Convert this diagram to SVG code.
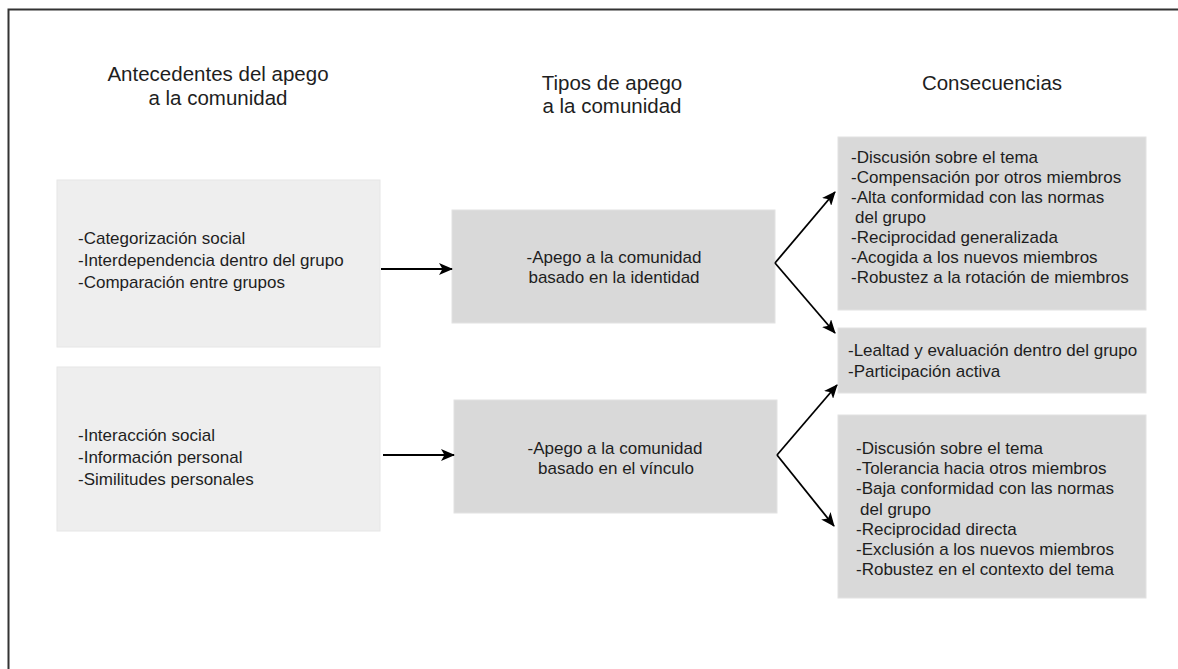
<svg xmlns="http://www.w3.org/2000/svg" width="1178" height="669" viewBox="0 0 1178 669">
  <style>
    .hdr { font-family: "Liberation Sans", Arial, sans-serif; font-size: 20.5px; fill: #1e1e1e; text-anchor: middle; }
    .txt { font-family: "Liberation Sans", Arial, sans-serif; font-size: 17px; fill: #1e1e1e; }
    .mid { text-anchor: middle; }
    .light { fill: #eeeeee; stroke: #e6e6e6; stroke-width: 1; }
    .dark { fill: #d9d9d9; stroke: #e2e2e2; stroke-width: 1; }
    .conn { fill: none; stroke: #000; stroke-width: 1.8; }
  </style>
  <defs>
    <marker id="arrow" viewBox="0 0 14 12" refX="13" refY="6" markerWidth="14" markerHeight="12" markerUnits="userSpaceOnUse" orient="auto">
      <path d="M0,0 L14,6 L0,12 L3.5,6 z" fill="#000"/>
    </marker>
  </defs>

  <rect width="1178" height="669" fill="#ffffff"/>
  <!-- frame: only top and left edges fall inside the canvas -->
  <path d="M8.5,669 L8.5,9.5 L1178,9.5" fill="none" stroke="#333333" stroke-width="2"/>

  <!-- column headings -->
  <g id="heading-antecedentes">
    <text class="hdr" x="218" y="81">Antecedentes del apego</text>
    <text class="hdr" x="218" y="105">a la comunidad</text>
  </g>
  <g id="heading-tipos">
    <text class="hdr" x="612" y="90">Tipos de apego</text>
    <text class="hdr" x="612" y="113">a la comunidad</text>
  </g>
  <g id="heading-consecuencias">
    <text class="hdr" x="992" y="90">Consecuencias</text>
  </g>

  <!-- antecedents -->
  <g id="node-antecedentes-identidad">
    <rect class="light" x="57" y="180" width="323" height="167"/>
    <text class="txt" x="78" y="244">-Categorización social</text>
    <text class="txt" x="78" y="266">-Interdependencia dentro del grupo</text>
    <text class="txt" x="78" y="288">-Comparación entre grupos</text>
  </g>
  <g id="node-antecedentes-vinculo">
    <rect class="light" x="57" y="367" width="323" height="164"/>
    <text class="txt" x="78" y="441">-Interacción social</text>
    <text class="txt" x="78" y="463">-Información personal</text>
    <text class="txt" x="78" y="485">-Similitudes personales</text>
  </g>

  <!-- attachment types -->
  <g id="node-apego-identidad">
    <rect class="dark" x="452" y="210" width="323" height="113"/>
    <text class="txt mid" x="614" y="263">-Apego a la comunidad</text>
    <text class="txt mid" x="614" y="283">basado en la identidad</text>
  </g>
  <g id="node-apego-vinculo">
    <rect class="dark" x="454" y="400" width="323" height="113"/>
    <text class="txt mid" x="615" y="454">-Apego a la comunidad</text>
    <text class="txt mid" x="616" y="474">basado en el vínculo</text>
  </g>

  <!-- consequences -->
  <g id="node-consecuencias-identidad">
    <rect class="dark" x="838" y="137" width="308" height="173"/>
    <text class="txt" x="851" y="163">-Discusión sobre el tema</text>
    <text class="txt" x="851" y="183">-Compensación por otros miembros</text>
    <text class="txt" x="851" y="203">-Alta conformidad con las normas</text>
    <text class="txt" x="855" y="223">del grupo</text>
    <text class="txt" x="851" y="243">-Reciprocidad generalizada</text>
    <text class="txt" x="851" y="263">-Acogida a los nuevos miembros</text>
    <text class="txt" x="851" y="283">-Robustez a la rotación de miembros</text>
  </g>
  <g id="node-consecuencias-comunes">
    <rect class="dark" x="838" y="328" width="308" height="65"/>
    <text class="txt" x="848" y="356">-Lealtad y evaluación dentro del grupo</text>
    <text class="txt" x="848" y="377">-Participación activa</text>
  </g>
  <g id="node-consecuencias-vinculo">
    <rect class="dark" x="838" y="415" width="308" height="183"/>
    <text class="txt" x="856" y="454">-Discusión sobre el tema</text>
    <text class="txt" x="856" y="474">-Tolerancia hacia otros miembros</text>
    <text class="txt" x="856" y="494">-Baja conformidad con las normas</text>
    <text class="txt" x="860" y="515">del grupo</text>
    <text class="txt" x="856" y="535">-Reciprocidad directa</text>
    <text class="txt" x="856" y="555">-Exclusión a los nuevos miembros</text>
    <text class="txt" x="856" y="575">-Robustez en el contexto del tema</text>
  </g>

  <!-- connectors -->
  <g id="connectors">
    <line class="conn" x1="381" y1="269" x2="452" y2="269" marker-end="url(#arrow)"/>
    <line class="conn" x1="383" y1="455" x2="454" y2="455" marker-end="url(#arrow)"/>
    <line class="conn" x1="775" y1="263" x2="835" y2="192" marker-end="url(#arrow)"/>
    <line class="conn" x1="775" y1="263" x2="835" y2="333" marker-end="url(#arrow)"/>
    <line class="conn" x1="777" y1="455" x2="837" y2="385" marker-end="url(#arrow)"/>
    <line class="conn" x1="777" y1="455" x2="834" y2="526" marker-end="url(#arrow)"/>
  </g>
</svg>
